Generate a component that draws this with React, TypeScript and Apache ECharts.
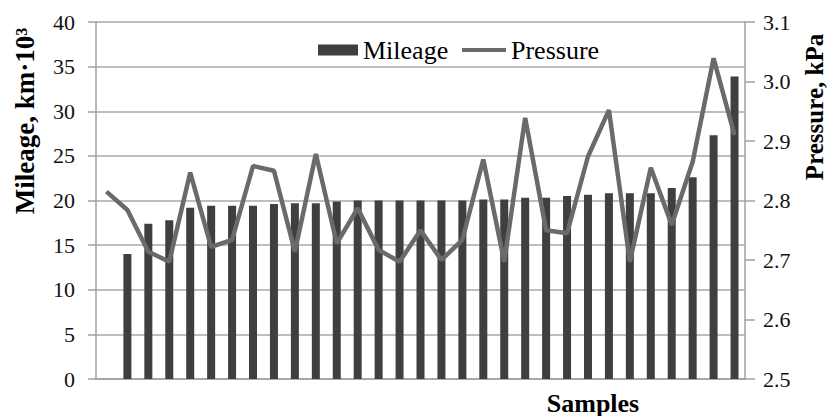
import React, { useEffect, useRef } from "react";
import * as echarts from "echarts";

const categories: string[] = Array.from({ length: 31 }, (_, i) => String(i + 1));
const mileage: (number | null)[] = [
  null, 14.0, 17.4, 17.8, 19.2, 19.4, 19.4, 19.4, 19.6, 19.7, 19.7,
  19.9, 20.0, 20.0, 20.0, 20.0, 20.0, 20.0, 20.1, 20.1, 20.3,
  20.3, 20.5, 20.65, 20.8, 20.8, 20.8, 21.4, 22.6, 27.3, 33.9,
];
const pressure: number[] = [
  2.815, 2.784, 2.714, 2.697, 2.847, 2.722, 2.734, 2.858, 2.85, 2.714, 2.878,
  2.728, 2.787, 2.717, 2.697, 2.75, 2.7, 2.734, 2.869, 2.697, 2.939,
  2.75, 2.745, 2.874, 2.952, 2.697, 2.855, 2.759, 2.865, 3.039, 2.91,
];

const FONT = "Liberation Serif";

export default function App() {
  const ref = useRef<HTMLDivElement>(null);
  useEffect(() => {
    if (!ref.current) return;
    const chart = echarts.init(ref.current, undefined, { renderer: "svg" });
    chart.setOption({
      animation: false,
      backgroundColor: "#ffffff",
      textStyle: { fontFamily: FONT },
      grid: { left: 96, right: 84, top: 22, bottom: 37, containLabel: false },
      legend: [
        {
          left: 313,
          top: 32,
          itemWidth: 40,
          itemHeight: 11,
          textStyle: { fontFamily: FONT, fontSize: 26, color: "#000", lineHeight: 26 },
          data: [{ name: "Mileage", icon: "rect" }],
        },
        {
          left: 457,
          top: 32,
          itemWidth: 44,
          itemHeight: 4,
          textStyle: { fontFamily: FONT, fontSize: 26, color: "#000", lineHeight: 26 },
          data: [{ name: "Pressure", icon: "rect" }],
        },
      ],
      xAxis: {
        type: "category",
        data: categories,
        boundaryGap: true,
        axisLine: { show: true, lineStyle: { color: "#a0a0a0", width: 1.5 } },
        axisTick: { show: false },
        axisLabel: { show: false },
        splitLine: { show: false },
      },
      yAxis: [
        {
          type: "value",
          min: 0,
          max: 40,
          interval: 5,
          position: "left",
          axisLine: { show: true, lineStyle: { color: "#a0a0a0", width: 1.5 } },
          axisTick: { show: true, length: 8, lineStyle: { color: "#a0a0a0", width: 1.5 } },
          axisLabel: { margin: 21, fontFamily: FONT, fontSize: 22, color: "#111" },
          splitLine: { show: true, lineStyle: { color: "#a8a8a8", width: 1.5 } },
        },
        {
          type: "value",
          min: 2.5,
          max: 3.1,
          interval: 0.1,
          position: "right",
          axisLine: { show: true, lineStyle: { color: "#a0a0a0", width: 1.5 } },
          axisTick: { show: true, length: 10, lineStyle: { color: "#a0a0a0", width: 1.5 } },
          axisLabel: {
            margin: 18,
            fontFamily: FONT,
            fontSize: 22,
            color: "#111",
            formatter: (v: number) => v.toFixed(1),
          },
          splitLine: { show: false },
        },
      ],
      series: [
        {
          name: "Mileage",
          type: "bar",
          data: mileage,
          yAxisIndex: 0,
          barWidth: 8,
          itemStyle: { color: "#3f3f3f" },
        },
        {
          name: "Pressure",
          type: "line",
          data: pressure,
          yAxisIndex: 1,
          symbol: "none",
          lineStyle: { color: "#6a6a6a", width: 4.5 },
          itemStyle: { color: "#6a6a6a" },
        },
      ],
      graphic: [
        {
          type: "text",
          x: 25,
          y: 121,
          rotation: Math.PI / 2,
          style: {
            text: "Mileage, km·10³",
            font: `bold 27px ${FONT}`,
            fill: "#000",
            align: "center",
            verticalAlign: "middle",
          },
        },
        {
          type: "text",
          x: 814,
          y: 107,
          rotation: Math.PI / 2,
          style: {
            text: "Pressure, kPa",
            font: `bold 25px ${FONT}`,
            fill: "#000",
            align: "center",
            verticalAlign: "middle",
          },
        },
        {
          type: "text",
          x: 593,
          y: 403,
          style: {
            text: "Samples",
            font: `bold 26px ${FONT}`,
            fill: "#000",
            align: "center",
            verticalAlign: "middle",
          },
        },
      ],
    });
    return () => chart.dispose();
  }, []);
  return (
    <div
      ref={ref}
      style={{ position: "fixed", left: 0, top: 0, width: 829, height: 416 }}
    />
  );
}
